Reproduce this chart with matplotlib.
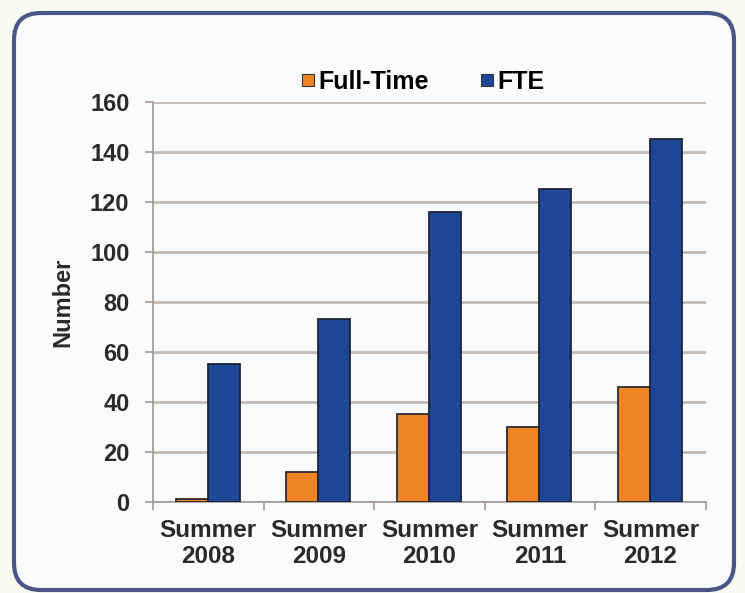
import numpy as np
import matplotlib
matplotlib.use("Agg")
import matplotlib.pyplot as plt
from matplotlib.patches import FancyBboxPatch
from matplotlib.lines import Line2D

# data
categories = ["Summer\n2008", "Summer\n2009", "Summer\n2010", "Summer\n2011", "Summer\n2012"]
full_time = [1, 12, 35, 30, 46]
fte = [55, 73, 116, 125, 145]
y_ticks = [0, 20, 40, 60, 80, 100, 120, 140, 160]

orange = '#ef8424'
blue = '#1d4794'

plt.rcParams['font.family'] = ['Liberation Sans', 'DejaVu Sans']
plt.rcParams['font.weight'] = 'bold'

fig = plt.figure(figsize=(7.45, 5.93), dpi=100)
fig.patch.set_facecolor('#fbfaf2')

# rounded panel behind the chart
panel = FancyBboxPatch((0.14, 0.03), 7.20, 5.77,
                       boxstyle="round,pad=0,rounding_size=0.27",
                       transform=fig.dpi_scale_trans,
                       facecolor='#fafbfc', edgecolor='#4a5686', linewidth=3, zorder=-5)
fig.patches.append(panel)

ax = fig.add_axes([0.2054, 0.1535, 0.742, 0.6745])
ax.set_zorder(2)
ax.set_facecolor('none')

x = np.arange(len(categories))
w = 0.29
ax.bar(x - 0.15, full_time, w, color=orange, edgecolor='#2a2a30', linewidth=1.3, zorder=3)
ax.bar(x + 0.14, fte, w, color=blue, edgecolor='#1e2438', linewidth=1.3, zorder=3)

ax.set_xlim(-0.5, len(categories) - 0.5)
ax.set_ylim(0, 160)
ax.set_yticks(y_ticks)
ax.yaxis.grid(True, color='#c4bab4', linewidth=2, zorder=1)
ax.set_axisbelow(True)

ax.set_xticks(x)
ax.set_xticklabels(categories, fontsize=17.5, fontweight='bold', color='#2a2a2a')
ax.set_xticks(np.arange(-0.5, len(categories)), minor=True)
ax.tick_params(axis='x', which='major', length=0, pad=12)
ax.tick_params(axis='x', which='minor', length=6, color='#a09894', width=1.2)
ax.tick_params(axis='y', length=6, color='#a09894', width=1.2, labelsize=17,
               labelcolor='#2a2a2a', pad=11)

for s in ['top', 'right']:
    ax.spines[s].set_visible(False)
for s in ['left', 'bottom']:
    ax.spines[s].set_color('#a09894')
    ax.spines[s].set_linewidth(1.2)

ax.set_ylabel('Number', fontsize=17, fontweight='bold', color='#2a2a2a', labelpad=11)

handles = [Line2D([], [], linestyle='none', marker='s', markersize=8,
                  markerfacecolor=c, markeredgecolor='#333340', markeredgewidth=0.8)
           for c in [orange, blue]]
leg = fig.legend(handles=handles, labels=['Full-Time', 'FTE'], loc='center',
                 bbox_to_anchor=(0.568, 0.862), ncol=2, frameon=False, fontsize=18,
                 handlelength=0.5, handletextpad=0.15, columnspacing=2.1)
leg.set_zorder(3)

fig.savefig('out.png', dpi=100, facecolor=fig.get_facecolor())
